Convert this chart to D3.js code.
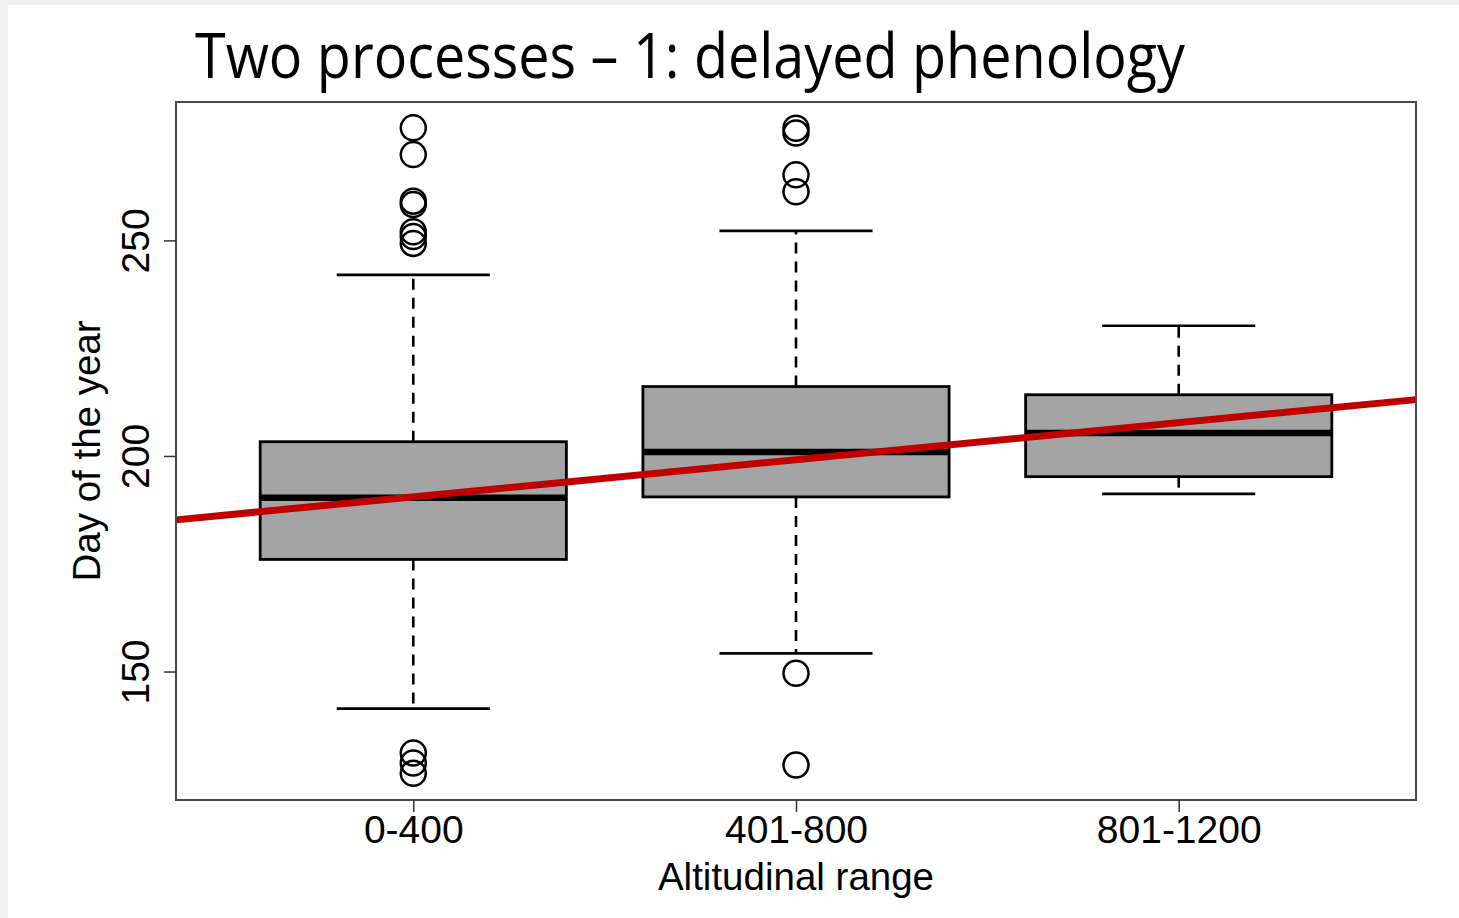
<!DOCTYPE html>
<html>
<head>
  <meta charset="utf-8">
  <title>Two processes - delayed phenology</title>
  <script src="https://d3js.org/d3.v7.min.js"></script>
  <style>
    body {
      margin: 0;
      padding: 0;
      background: #ffffff;
    }
    svg {
      font-family: "Liberation Sans", Arial, sans-serif;
      display: block;
    }
  </style>
</head>
<body>
  <div id="chart"></div>
  <script>
    // Data
    var categories = ["0-400", "401-800", "801-1200"];
    var whiskerLow = [141.4, 154.2, 191.2];
    var q1 = [176.0, 190.5, 195.2];
    var medians = [190.3, 200.9, 205.3];
    var q3 = [203.3, 216.1, 214.2];
    var whiskerHigh = [242.0, 252.2, 230.2];
    var outliers = [
      [276.1, 269.9, 259.1, 258.3, 252.0, 250.9, 249.3, 131.1, 128.8, 126.4],
      [276.0, 274.9, 265.2, 261.3, 149.6, 128.3],
      []
    ];
    var yTicks = [150, 200, 250];
    // fitted trend (day = intercept + slope * group index)
    var trendIntercept = 181.9;
    var trendSlope = 8.61;

    var width = 1459, height = 918;
    var plot = { left: 176, right: 1416, top: 102, bottom: 800 };

    var svg = d3.select("#chart")
      .append("svg")
        .attr("width", width)
        .attr("height", height);

    // light grey strips at the slide edges
    svg.append("rect").attr("x", 0).attr("y", 0).attr("width", width).attr("height", 5).attr("fill", "#f0f0f0");
    svg.append("rect").attr("x", 0).attr("y", 0).attr("width", 8).attr("height", height).attr("fill", "#f0f0f0");

    var x = d3.scaleLinear()
      .domain([0.38, 3.62])
      .range([plot.left, plot.right]);

    var y = d3.scaleLinear()
      .domain([120.2, 282.1])
      .range([plot.bottom, plot.top]);

    var boxW = x(1.4) - x(0.6);
    var capW = boxW / 2;

    var groups = categories.map(function(c, i) {
      return {
        name: c, idx: i + 1,
        lo: whiskerLow[i], q1: q1[i], med: medians[i], q3: q3[i], hi: whiskerHigh[i],
        out: outliers[i]
      };
    });

    var g = svg.selectAll(".box")
      .data(groups)
      .enter()
      .append("g")
        .attr("class", "box");

    // dashed whiskers
    g.append("line")
      .attr("x1", function(d) { return x(d.idx); })
      .attr("x2", function(d) { return x(d.idx); })
      .attr("y1", function(d) { return y(d.q3); })
      .attr("y2", function(d) { return y(d.hi); })
      .attr("stroke", "#000").attr("stroke-width", 2.6).attr("stroke-dasharray", "11,8");
    g.append("line")
      .attr("x1", function(d) { return x(d.idx); })
      .attr("x2", function(d) { return x(d.idx); })
      .attr("y1", function(d) { return y(d.q1); })
      .attr("y2", function(d) { return y(d.lo); })
      .attr("stroke", "#000").attr("stroke-width", 2.6).attr("stroke-dasharray", "11,8");

    // staples
    g.append("line")
      .attr("x1", function(d) { return x(d.idx) - capW / 2; })
      .attr("x2", function(d) { return x(d.idx) + capW / 2; })
      .attr("y1", function(d) { return y(d.hi); })
      .attr("y2", function(d) { return y(d.hi); })
      .attr("stroke", "#000").attr("stroke-width", 2.6);
    g.append("line")
      .attr("x1", function(d) { return x(d.idx) - capW / 2; })
      .attr("x2", function(d) { return x(d.idx) + capW / 2; })
      .attr("y1", function(d) { return y(d.lo); })
      .attr("y2", function(d) { return y(d.lo); })
      .attr("stroke", "#000").attr("stroke-width", 2.6);

    // boxes
    g.append("rect")
      .attr("x", function(d) { return x(d.idx) - boxW / 2; })
      .attr("y", function(d) { return y(d.q3); })
      .attr("width", boxW)
      .attr("height", function(d) { return y(d.q1) - y(d.q3); })
      .attr("fill", "#a4a4a4")
      .attr("stroke", "#000")
      .attr("stroke-width", 2.8);

    // medians
    g.append("line")
      .attr("x1", function(d) { return x(d.idx) - boxW / 2; })
      .attr("x2", function(d) { return x(d.idx) + boxW / 2; })
      .attr("y1", function(d) { return y(d.med); })
      .attr("y2", function(d) { return y(d.med); })
      .attr("stroke", "#000").attr("stroke-width", 6.5);

    // outliers
    g.selectAll("circle")
      .data(function(d) { return d.out.map(function(v) { return { idx: d.idx, v: v }; }); })
      .enter()
      .append("circle")
        .attr("cx", function(d) { return x(d.idx); })
        .attr("cy", function(d) { return y(d.v); })
        .attr("r", 12.5)
        .attr("fill", "none")
        .attr("stroke", "#000")
        .attr("stroke-width", 2.5);

    // trend line
    var xd = x.domain();
    svg.append("line")
      .attr("x1", x(xd[0]))
      .attr("y1", y(trendIntercept + trendSlope * xd[0]))
      .attr("x2", x(xd[1]))
      .attr("y2", y(trendIntercept + trendSlope * xd[1]))
      .attr("stroke", "#c00000")
      .attr("stroke-width", 7);

    // frame
    svg.append("rect")
      .attr("x", plot.left)
      .attr("y", plot.top)
      .attr("width", plot.right - plot.left)
      .attr("height", plot.bottom - plot.top)
      .attr("fill", "none")
      .attr("stroke", "#4a4a4a")
      .attr("stroke-width", 2);

    // y axis
    var yAxis = svg.append("g")
      .attr("transform", "translate(" + plot.left + ",0)")
      .call(d3.axisLeft(y).tickValues(yTicks).tickSize(12).tickSizeOuter(0));
    yAxis.select(".domain").remove();
    yAxis.selectAll(".tick line").attr("stroke", "#333").attr("stroke-width", 1.5);
    yAxis.selectAll(".tick text")
      .attr("transform", "rotate(-90)")
      .attr("x", 0)
      .attr("y", -27)
      .attr("dy", 0)
      .attr("text-anchor", "middle")
      .attr("font-size", 39)
      .attr("font-family", "Liberation Sans, Arial, sans-serif")
      .attr("fill", "#000");

    // x axis
    var xAxis = svg.append("g")
      .attr("transform", "translate(0," + plot.bottom + ")")
      .call(d3.axisBottom(x).tickValues([1, 2, 3])
        .tickFormat(function(d) { return categories[d - 1]; })
        .tickSize(12).tickSizeOuter(0));
    xAxis.select(".domain").remove();
    xAxis.selectAll(".tick line").attr("stroke", "#333").attr("stroke-width", 1.5);
    xAxis.selectAll(".tick text")
      .attr("y", 43)
      .attr("dy", 0)
      .attr("font-size", 39)
      .attr("font-family", "Liberation Sans, Arial, sans-serif")
      .attr("fill", "#000");

    // axis titles
    svg.append("text")
      .attr("x", (plot.left + plot.right) / 2)
      .attr("y", 890)
      .attr("text-anchor", "middle")
      .attr("font-size", 38.5)
      .text("Altitudinal range");

    svg.append("text")
      .attr("transform", "translate(100," + (plot.top + plot.bottom) / 2 + ") rotate(-90)")
      .attr("text-anchor", "middle")
      .attr("font-size", 38.5)
      .text("Day of the year");

    // slide title
    svg.append("text")
      .attr("x", 195)
      .attr("y", 78)
      .attr("font-family", "'Open Sans', 'Noto Sans', sans-serif")
      .attr("font-size", 62)
      .attr("textLength", 990)
      .attr("lengthAdjust", "spacingAndGlyphs")
      .attr("fill", "#000")
      .text("Two processes \u2013 1: delayed phenology");
  </script>
</body>
</html>
